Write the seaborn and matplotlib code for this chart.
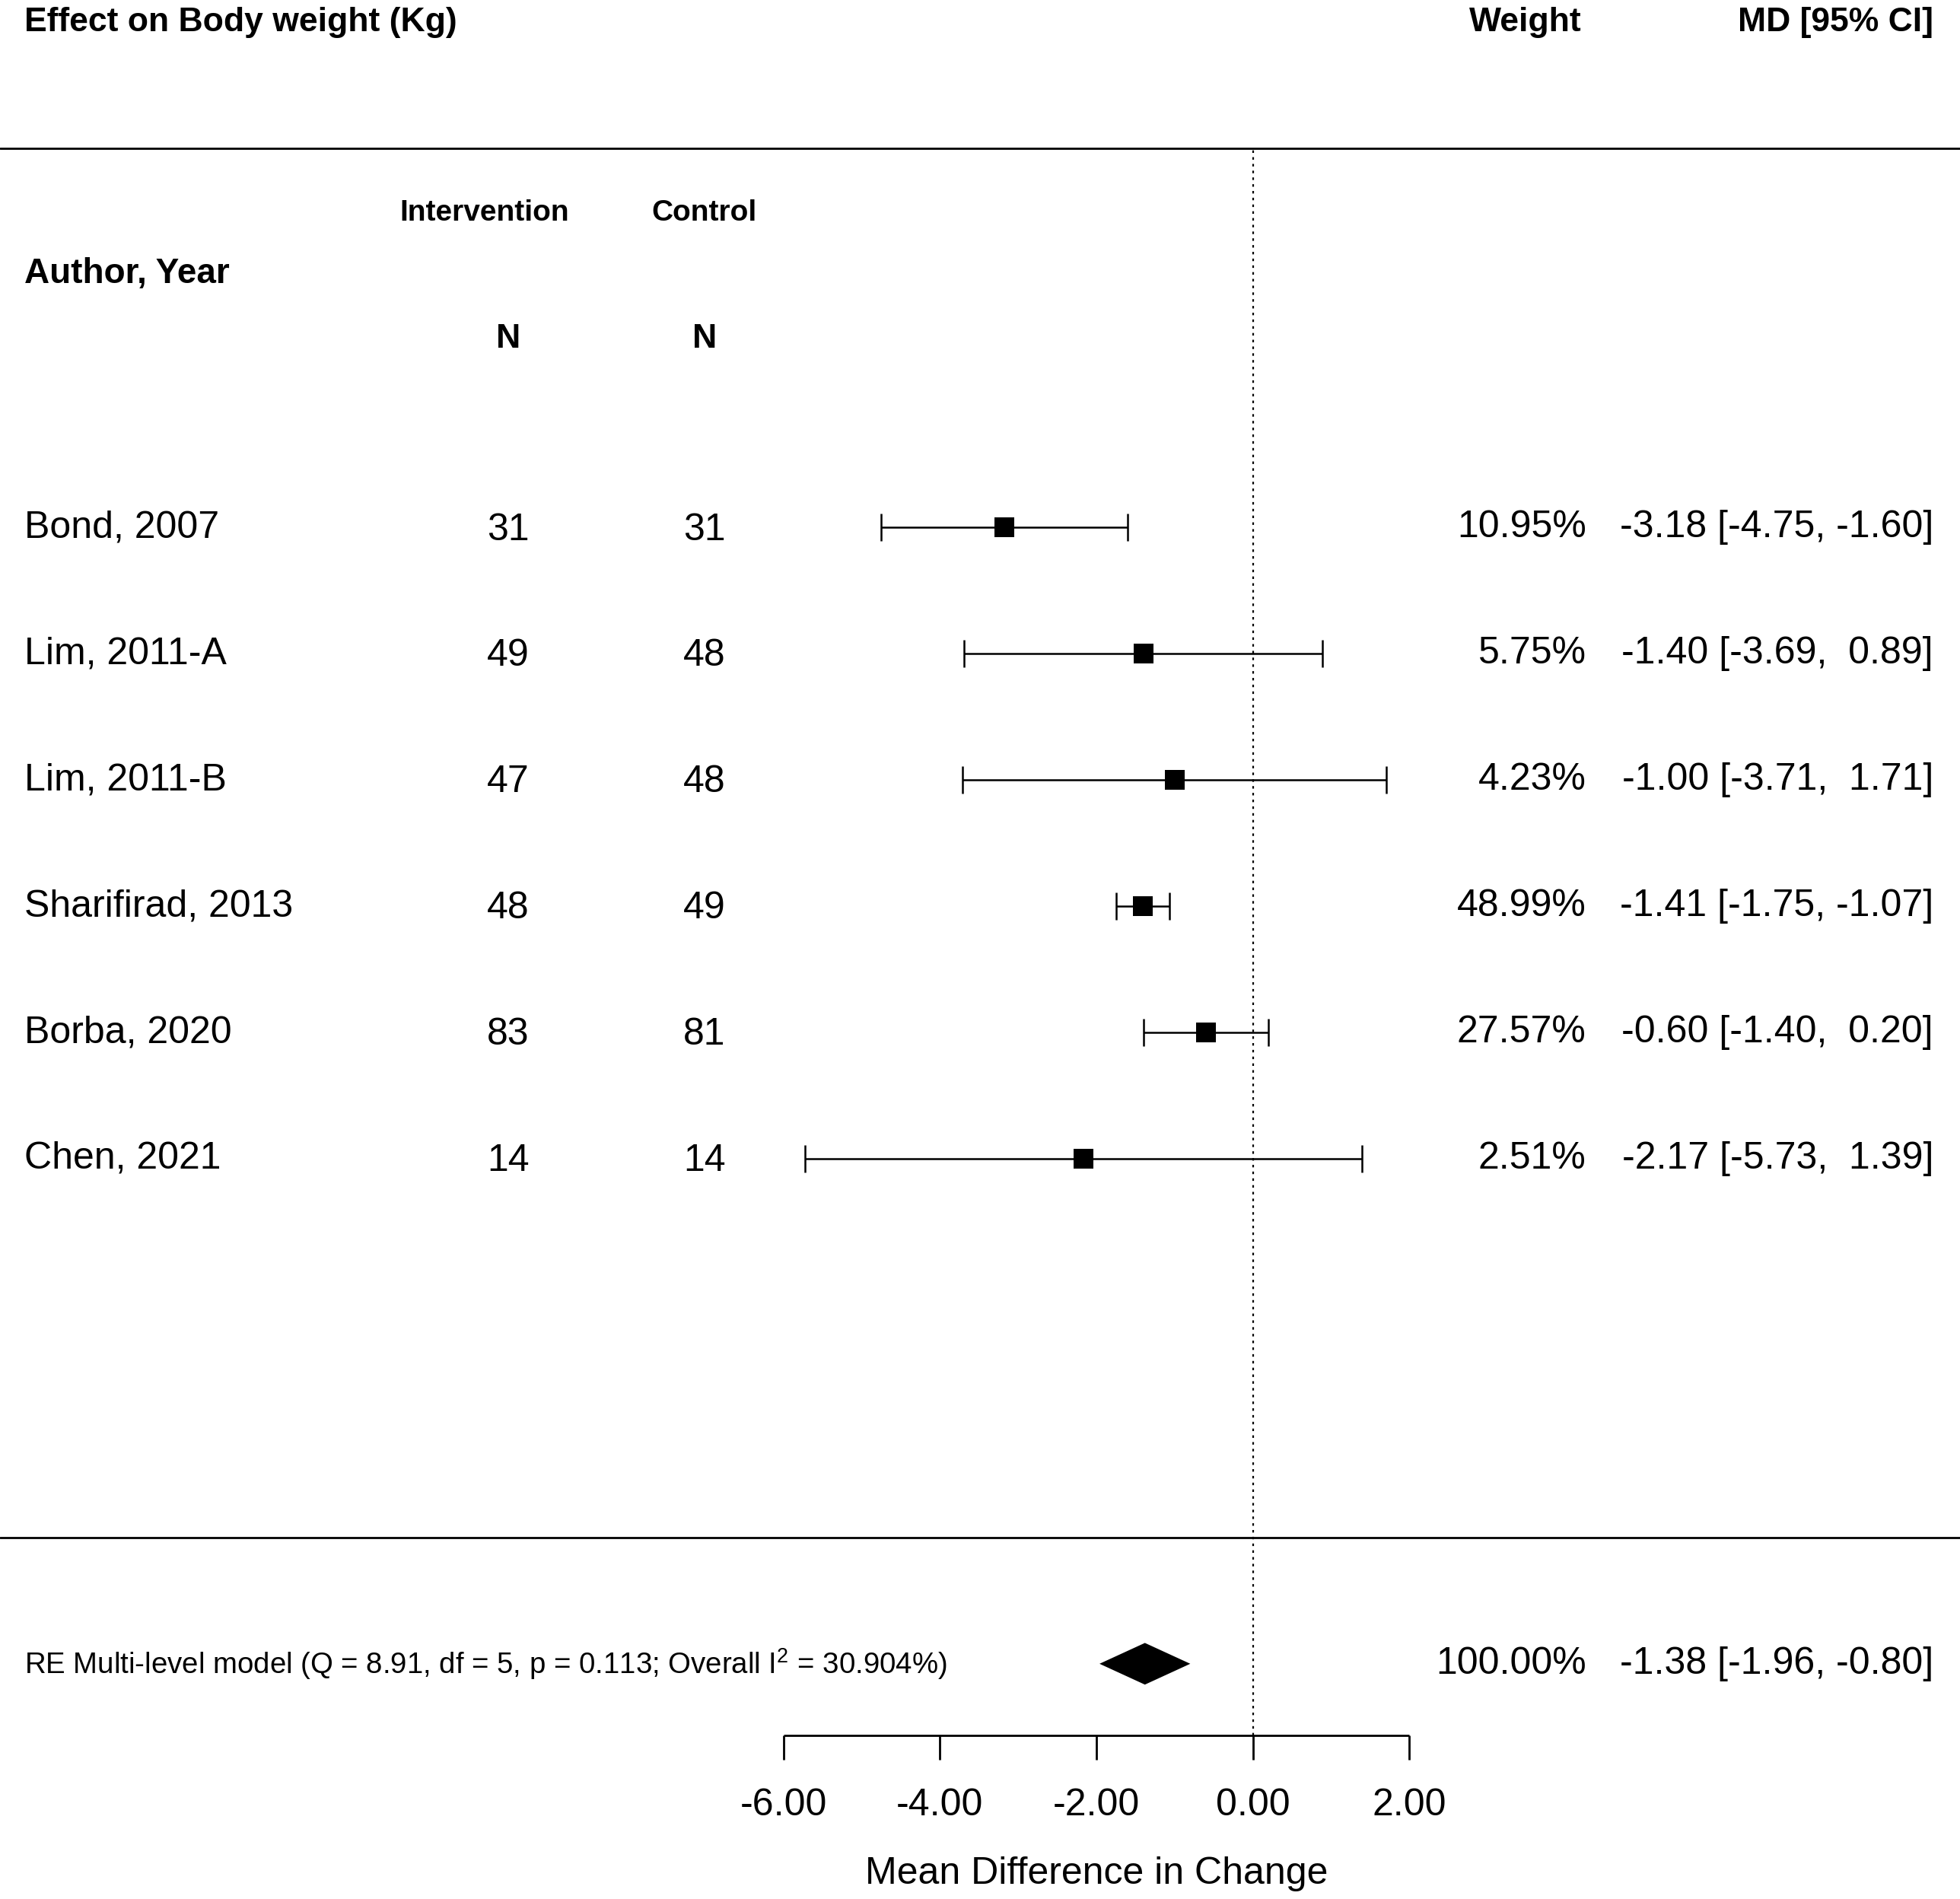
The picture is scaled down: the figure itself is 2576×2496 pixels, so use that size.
import numpy as np
import matplotlib.pyplot as plt
import seaborn as sns

# studies and their data (top to bottom)
studies = ["Bond, 2007", "Lim, 2011-A", "Lim, 2011-B", "Sharifirad, 2013", "Borba, 2020", "Chen, 2021"]
n_int = [31, 49, 47, 48, 83, 14]
n_ctl = [31, 48, 48, 49, 81, 14]
md = [-3.18, -1.40, -1.00, -1.41, -0.60, -2.17]
ci_lo = [-4.75, -3.69, -3.71, -1.75, -1.40, -5.73]
ci_hi = [-1.60, 0.89, 1.71, -1.07, 0.20, 1.39]
weights = [10.95, 5.75, 4.23, 48.99, 27.57, 2.51]

# pooled estimate
pooled_md = -1.38
pooled_lo = -1.96
pooled_hi = -0.80
pooled_weight = 100.00
model_text = r"RE Multi-level model (Q = 8.91, df = 5, p = 0.113; Overall $\mathregular{I^2}$ = 30.904%)"

x_ticks = [-6, -4, -2, 0, 2]

sns.set_theme(style="white")
plt.rcParams['font.family'] = ['Liberation Sans', 'DejaVu Sans']
plt.rcParams['mathtext.fontset'] = 'custom'
plt.rcParams['mathtext.rm'] = 'Liberation Sans'
plt.rcParams['text.color'] = 'black'

fig = plt.figure(figsize=(12.88, 12.48), dpi=200)
ax = fig.add_axes([0, 0, 1, 1])
ax.set_xlim(-16.016, 9.04)
ax.set_ylim(0.137, 15.177)
ax.axis('off')

rows = np.arange(len(studies), 0, -1) + 5  # 11 .. 6
x_name = -15.70
x_int = -9.52
x_ctl = -7.01
x_wt = 4.26
x_md = 8.70
fs = 18
fs_head = 16

# header
ax.text(x_name, 15.0, "Effect on Body weight (Kg)", fontsize=fs_head, fontweight='bold', ha='left', va='center')
ax.text(4.20, 15.0, "Weight", fontsize=fs_head, fontweight='bold', ha='right', va='center')
ax.text(x_md, 15.0, "MD [95% CI]", fontsize=fs_head, fontweight='bold', ha='right', va='center')
ax.text(-9.82, 13.49, "Intervention", fontsize=14, fontweight='bold', ha='center', va='center')
ax.text(x_ctl, 13.49, "Control", fontsize=14, fontweight='bold', ha='center', va='center')
ax.text(x_name, 13.01, "Author, Year", fontsize=16.5, fontweight='bold', ha='left', va='center')
ax.text(x_int, 12.49, "N", fontsize=fs_head, fontweight='bold', ha='center', va='center')
ax.text(x_ctl, 12.49, "N", fontsize=fs_head, fontweight='bold', ha='center', va='center')

# horizontal separators and reference line
ax.axhline(14, color='black', lw=1.0)
ax.axhline(3, color='black', lw=1.0)
ax.vlines(0, 1.43, 14, color='black', lw=0.8, linestyles=(0, (1.5, 2.5)))

# study rows
ax.hlines(rows, ci_lo, ci_hi, color='black', lw=0.9)
ax.vlines(ci_lo, rows - 0.11, rows + 0.11, color='black', lw=0.9)
ax.vlines(ci_hi, rows - 0.11, rows + 0.11, color='black', lw=0.9)
sns.scatterplot(x=md, y=rows, marker='s', s=85, color='black', edgecolor='black', linewidth=0, ax=ax, zorder=3)

for i, r in enumerate(rows):
    ax.text(x_name, r, studies[i], fontsize=fs, ha='left', va='center')
    ax.text(x_int, r - 0.02, str(n_int[i]), fontsize=fs, ha='center', va='center')
    ax.text(x_ctl, r - 0.02, str(n_ctl[i]), fontsize=fs, ha='center', va='center')
    ax.text(x_wt, r, f"{weights[i]:.2f}%", fontsize=fs, ha='right', va='center')
    ax.text(x_md, r, f"{md[i]:.2f} [{ci_lo[i]:5.2f}, {ci_hi[i]:5.2f}]".replace("[ ", "["),
            fontsize=fs, ha='right', va='center')

# pooled diamond
ax.fill([pooled_lo, pooled_md, pooled_hi, pooled_md], [2, 2.165, 2, 1.835], color='black', lw=0)
ax.text(x_name, 2, model_text, fontsize=13.8, ha='left', va='center')
ax.text(x_wt, 2, f"{pooled_weight:.2f}%", fontsize=fs, ha='right', va='center')
ax.text(x_md, 2, f"{pooled_md:.2f} [{pooled_lo:.2f}, {pooled_hi:.2f}]", fontsize=fs, ha='right', va='center')

# x axis
ax.hlines(1.43, x_ticks[0], x_ticks[-1], color='black', lw=1.0)
ax.vlines(x_ticks, 1.238, 1.43, color='black', lw=1.0)
for t in x_ticks:
    ax.text(t, 0.88, f"{t:.2f}", fontsize=fs, ha='center', va='center')
ax.text(np.mean([x_ticks[0], x_ticks[-1]]), 0.335, "Mean Difference in Change", fontsize=fs, ha='center', va='center')

plt.savefig('out.png', dpi=200, facecolor='white')
